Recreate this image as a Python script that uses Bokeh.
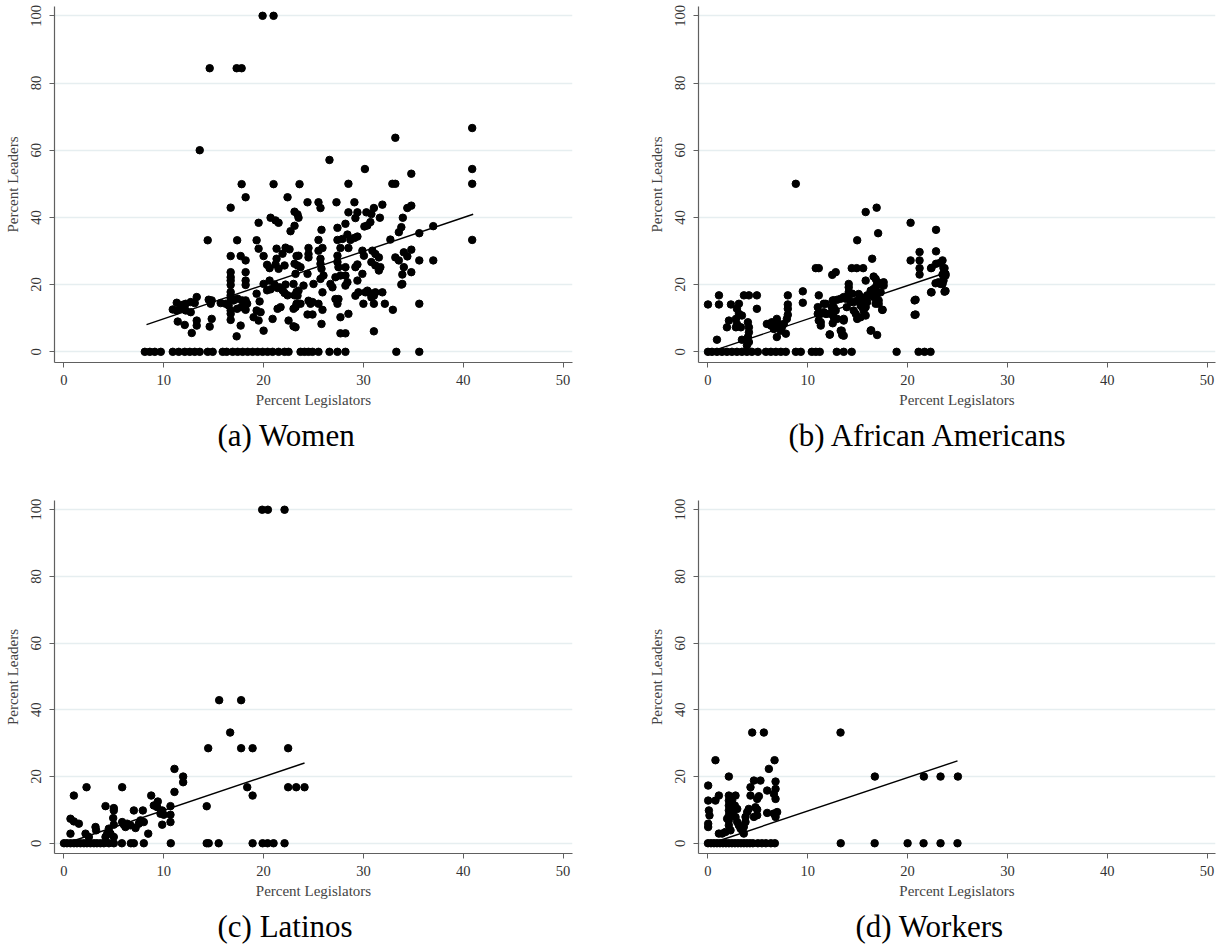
from bokeh.plotting import figure
from bokeh.layouts import gridplot
from bokeh.models import FixedTicker, Range1d, Title
from bokeh.embed import file_html
from bokeh.resources import INLINE

FONT = "Liberation Serif"

# ---------------- data: (a) Women ----------------
women_zero_x = [8.1, 8.6, 9.1, 9.7, 10.9, 11.5, 12.1, 12.6, 13.1, 13.6, 14.4, 14.9, 15.9, 16.3,
                16.9, 17.4, 17.9, 18.4, 18.9, 19.4, 19.9, 20.4, 20.9, 21.5, 22.1, 22.5, 23.7, 24.1,
                24.5, 24.9, 25.5, 26.6, 27.4, 28.2, 33.3, 35.6]
women_pts = [
    (19.9, 100), (21.0, 100), (14.6, 84.4), (17.3, 84.4), (17.8, 84.4), (13.6, 60),
    (17.8, 49.9), (21.0, 49.9), (23.6, 49.9), (18.2, 46.0), (22.4, 46.0), (16.7, 42.9), (23.1, 41.7),
    (23.4, 40.9), (19.5, 38.4), (20.7, 39.9), (21.2, 39.1), (21.5, 38.4), (23.1, 37.5), (22.7, 35.9),
    (14.4, 33.2), (17.35, 33.2), (19.3, 33.2), (19.5, 30.7), (21.3, 30.7), (22.2, 31.0), (22.6, 30.5),
    (16.7, 28.5), (17.7, 28.5), (18.2, 27.2), (20.0, 28.5), (21.3, 27.7), (21.9, 29.2), (20.35, 25.9),
    (20.6, 24.9), (21.2, 26.0), (21.5, 24.7), (22.1, 25.7), (23.1, 26.2), (23.3, 28.5),
    (16.7, 23.7), (16.7, 22.2), (16.7, 21.2), (16.7, 19.9), (18.2, 23.7), (18.2, 21.2), (18.2, 19.9),
    (20.0, 20.2), (20.6, 21.2), (21.1, 20.0), (21.4, 19.0), (21.6, 19.2), (21.9, 18.3), (22.2, 20.0),
    (22.1, 17.5), (22.4, 16.8), (23.0, 20.2), (23.3, 17.8), (23.1, 16.8), (19.3, 17.3), (19.6, 15.0),
    (20.35, 18.3), (20.7, 18.6), (16.7, 17.8), (16.7, 16.8), (16.7, 15.8), (17.0, 15.3), (17.4, 15.8),
    (17.85, 15.3), (18.2, 15.3), (15.7, 14.5), (16.2, 14.3), (16.5, 13.8), (16.7, 12.3), (17.35, 12.8),
    (17.75, 13.3), (18.2, 12.5), (18.35, 14.3), (14.5, 15.5), (14.7, 14.3), (14.8, 15.3), (13.3, 16.3),
    (13.1, 14.5), (12.7, 14.8), (12.2, 14.3), (11.9, 14.0), (11.3, 14.6), (11.7, 12.8), (10.9, 12.6),
    (11.3, 12.3), (12.2, 12.3), (12.7, 11.8), (11.4, 9.0), (12.1, 8.0), (12.8, 5.6), (13.3, 9.3),
    (13.3, 7.8), (14.8, 9.8), (14.6, 7.5), (16.7, 11.3), (16.7, 9.5), (17.7, 7.8), (17.3, 4.6),
    (19.0, 10.3), (19.5, 9.3), (20.0, 6.3), (20.9, 9.8), (21.4, 12.8), (21.7, 13.3), (22.5, 9.3),
    (23.0, 7.6), (23.0, 12.8), (23.3, 14.3), (19.3, 12.3), (19.7, 11.8),
    (40.9, 66.6), (33.2, 63.7), (26.6, 57.1), (30.15, 54.4), (40.9, 54.4), (40.9, 50.0), (34.8, 53.0),
    (28.5, 50.0), (32.9, 50.0), (33.2, 50.0), (24.4, 44.5), (25.5, 44.5), (25.7, 42.8), (27.3, 44.5),
    (29.1, 44.5), (28.5, 41.5), (29.4, 41.5), (29.2, 39.8), (30.3, 41.5), (31.05, 42.8), (30.8, 41.0),
    (31.9, 43.8), (34.4, 42.8), (34.8, 43.5), (23.5, 39.9), (31.65, 39.9), (30.7, 38.6), (30.4, 37.6),
    (30.1, 37.3), (33.95, 39.9), (33.8, 37.1), (33.55, 35.6), (37.0, 37.4), (28.2, 38.1), (27.4, 36.9),
    (25.8, 36.3), (35.6, 35.3), (32.7, 33.4), (28.4, 34.9), (29.1, 33.9), (29.4, 34.3), (28.7, 33.3),
    (27.4, 33.3), (27.9, 33.6), (27.7, 30.9), (28.5, 30.9), (25.5, 33.3), (24.5, 30.9), (25.9, 30.9),
    (25.5, 30.1), (40.9, 33.3), (29.9, 30.1), (30.05, 28.6), (30.9, 30.1), (31.2, 29.1), (31.55, 28.1),
    (33.2, 28.1), (33.55, 27.2), (34.05, 29.6), (34.4, 28.4), (34.8, 30.4), (35.6, 27.2), (37.0, 27.2),
    (23.5, 28.6), (23.4, 25.7), (23.7, 25.2), (23.2, 23.2), (24.5, 29.1), (24.5, 28.1), (25.7, 27.7),
    (25.7, 26.2), (25.8, 24.7), (26.0, 22.7), (25.7, 21.7), (27.4, 28.6), (27.4, 26.7), (27.5, 25.2),
    (27.2, 22.2), (27.7, 22.7), (28.2, 25.2), (28.2, 22.7), (28.4, 20.7), (28.2, 19.7), (29.4, 26.0),
    (29.2, 25.2), (29.9, 23.2), (29.4, 21.2), (29.2, 16.7), (29.5, 17.7), (30.2, 17.7), (30.8, 26.7),
    (31.2, 25.7), (31.7, 25.2), (31.55, 24.2), (34.05, 25.2), (33.9, 23.0), (33.9, 20.2), (34.8, 23.7),
    (24.4, 23.2), (25.0, 20.2), (24.0, 19.7), (26.7, 20.2), (26.9, 19.2), (27.2, 15.7), (27.5, 15.7),
    (27.4, 14.3), (27.7, 10.3), (28.5, 11.3), (25.9, 17.7), (25.5, 14.3), (25.9, 12.5), (25.8, 8.3),
    (24.5, 15.2), (24.9, 14.8), (24.7, 14.3), (24.4, 11.1), (24.9, 11.1), (23.5, 18.2), (23.4, 16.7),
    (23.7, 14.3), (23.2, 13.3), (30.4, 18.2), (30.7, 17.4), (31.2, 17.7), (31.9, 17.7), (31.05, 16.7),
    (30.8, 16.2), (30.0, 14.3), (31.05, 14.3), (32.15, 14.3), (32.95, 12.5), (35.6, 14.3), (31.05, 6.1),
    (27.7, 5.5), (28.2, 5.5), (23.2, 7.3), (33.8, 20.0),
]
women_fit_x = [8.27, 41.0]
women_fit_y = [8.1, 40.95]

# ---------------- data: (b) African Americans ----------------
afam_zero_x = [0.0, 0.4, 0.9, 1.4, 1.9, 2.4, 2.9, 3.4, 3.9, 4.4, 5.0, 5.8, 6.3, 6.8, 7.3, 7.8,
               8.8, 9.3, 10.4, 10.8, 11.2, 12.9, 13.6, 14.4, 18.9, 21.1, 21.7, 22.3]
afam_pts = [
    (8.8, 50), (15.8, 41.6), (16.9, 42.9), (17.05, 35.3), (14.95, 33.2), (20.3, 38.4), (22.85, 36.3),
    (10.8, 24.9), (11.1, 24.9), (12.45, 22.9), (12.8, 23.7), (14.4, 24.9), (14.9, 24.9), (15.55, 24.9),
    (16.45, 27.7), (21.2, 29.7), (21.2, 27.2), (21.2, 24.9), (21.2, 23.0), (20.3, 27.2), (22.85, 29.9),
    (22.85, 26.2), (22.35, 24.9), (23.5, 27.2), (23.7, 24.9), (23.8, 22.7), (23.5, 23.0), (23.3, 20.2),
    (22.8, 20.4), (23.7, 17.9), (22.35, 17.7), (20.7, 15.3), (20.7, 11.0),
    (0.0, 14.1), (1.1, 14.1), (1.1, 16.8), (2.3, 14.1), (3.6, 16.8), (4.1, 16.8), (4.9, 16.8),
    (4.9, 12.8), (3.1, 14.3), (2.9, 12.8), (3.1, 11.3), (3.4, 10.8), (2.8, 9.8), (2.9, 8.3), (2.1, 9.3),
    (1.9, 7.3), (2.8, 7.3), (3.3, 7.3), (4.0, 8.8), (4.1, 7.3), (4.1, 5.8), (4.0, 4.4), (4.1, 2.9),
    (3.9, 1.9), (0.9, 3.6), (3.4, 3.6), (6.1, 8.3), (6.4, 8.8), (6.8, 7.3), (6.9, 9.8), (7.1, 8.3),
    (7.3, 6.3), (7.4, 7.3), (7.6, 8.3), (6.9, 4.4), (7.8, 5.4), (7.9, 9.8), (8.0, 12.8), (8.0, 16.8),
    (8.0, 14.1), (8.0, 11.0), (5.9, 8.3), (6.3, 7.8), (6.6, 6.8), (9.5, 18.0), (9.5, 14.6), (11.1, 16.8),
    (11.6, 14.3), (11.0, 13.3), (11.0, 11.3), (11.1, 9.3), (11.3, 7.8), (11.8, 11.3), (12.2, 5.1),
    (12.5, 15.3), (12.6, 13.3), (12.5, 11.3), (12.5, 8.5), (12.95, 15.5), (12.95, 9.8), (13.3, 6.3),
    (13.45, 5.0), (13.6, 9.3),
    (13.6, 16.3), (14.1, 17.2), (14.1, 20.2), (14.3, 14.8), (13.9, 13.3), (14.6, 12.3), (14.8, 11.3),
    (14.95, 15.3), (15.1, 17.2), (15.3, 13.8), (15.45, 15.8), (15.6, 12.3), (15.8, 10.8), (15.95, 14.8),
    (16.3, 16.8), (16.45, 18.2), (16.6, 16.3), (16.8, 19.2), (16.95, 17.2), (16.8, 14.3), (17.1, 15.3),
    (17.3, 17.7), (17.5, 20.0), (16.3, 6.3), (16.95, 5.0), (17.5, 12.5), (16.6, 22.4), (16.8, 21.7),
    (17.0, 20.7), (17.6, 20.7), (17.6, 19.7), (14.1, 19.2), (14.1, 17.8), (14.1, 16.8), (15.8, 21.2),
    (16.95, 20.2), (17.3, 20.2), (13.3, 15.8), (13.8, 15.8), (14.45, 17.3), (14.6, 14.8), (15.3, 16.3),
    (15.45, 13.3), (15.95, 16.8), (16.3, 18.2), (16.6, 18.7), (12.6, 15.3), (12.4, 13.3), (12.8, 12.3),
    (12.6, 10.3), (12.3, 11.3), (11.8, 14.3), (11.6, 11.8), (11.9, 11.3), (11.3, 11.3), (11.3, 8.8),
    (13.6, 9.8), (13.4, 6.3), (13.6, 4.8), (12.2, 5.2), (14.95, 9.8), (15.3, 10.3),
    (15.8, 13.3), (16.35, 6.4), (17.45, 12.5), (17.1, 14.3), (20.8, 15.5), (20.8, 11.1), (22.4, 25.0),
    (23.2, 26.4), (23.6, 24.9), (23.8, 23.2), (23.6, 21.2), (23.1, 20.7), (23.5, 20.2), (23.8, 18.1),
    (22.4, 17.7),
]
afam_fit_x = [0.4, 23.3]
afam_fit_y = [0.2, 23.0]

# ---------------- data: (c) Latinos ----------------
lat_zero_x = [0.0, 0.3, 0.65, 1.0, 1.3, 1.65, 2.0, 2.3, 2.65, 3.0, 3.3, 3.65, 4.0, 4.5, 5.0, 5.8,
              6.7, 7.0, 8.0, 10.7, 14.3, 14.5, 15.5, 18.9, 19.9, 20.4, 21.0, 22.1]
lat_pts = [
    (19.86, 100), (20.43, 100), (22.1, 100), (15.55, 42.9), (17.75, 42.9), (16.65, 33.2),
    (14.45, 28.5), (17.75, 28.5), (18.9, 28.5), (22.46, 28.5), (18.36, 16.8), (18.9, 14.3),
    (22.46, 16.8), (23.27, 16.8), (24.1, 16.8), (14.3, 11.1), (11.07, 22.3), (11.94, 20.0),
    (11.94, 18.3), (11.07, 15.4), (0.99, 14.3), (2.26, 16.8), (5.83, 16.8),
    (0.65, 7.35), (0.99, 6.56), (1.49, 5.87), (0.65, 2.88), (2.16, 2.88), (2.49, 1.89), (3.16, 4.87),
    (3.22, 3.88), (4.16, 11.13), (4.99, 10.54), (4.93, 7.55), (4.99, 5.57), (4.49, 4.37), (4.33, 2.88),
    (4.66, 2.88), (4.16, 1.89), (4.99, 1.89), (5.83, 6.36), (6.0, 5.57), (6.33, 5.87), (6.16, 4.87),
    (6.67, 5.37), (7.0, 9.84), (7.17, 4.57), (7.5, 5.87), (7.67, 6.86), (8.0, 6.36), (7.9, 9.84),
    (8.44, 2.88), (8.74, 14.3), (9.0, 11.33), (9.4, 12.52), (9.34, 10.83), (9.84, 9.84), (9.67, 8.85),
    (10.0, 8.55), (9.84, 5.57), (10.67, 11.13), (10.67, 8.55), (10.67, 6.36), (4.99, 9.84),
]
lat_fit_x = [0.82, 24.1]
lat_fit_y = [0.6, 24.06]

# ---------------- data: (d) Workers ----------------
work_zero_x = [0.0, 0.3, 0.6, 0.9, 1.2, 1.5, 1.8, 2.1, 2.4, 2.7, 3.0, 3.3, 3.6, 3.9, 4.2, 4.5, 5.0,
               5.4, 5.8, 6.3, 6.7, 13.3, 16.7, 20.0, 21.6, 23.3, 25.0]
work_pts = [
    (4.43, 33.2), (5.6, 33.2), (13.28, 33.2), (0.75, 24.9), (6.67, 24.9), (2.09, 20.0), (16.72, 20.0),
    (21.63, 20.0), (23.3, 20.0), (25.04, 20.0), (0.02, 17.3), (6.1, 22.3),
    (4.26, 16.8), (4.6, 18.8), (5.26, 18.8), (6.77, 18.5), (6.77, 16.3), (6.6, 14.8), (6.77, 13.3),
    (5.93, 15.8), (5.1, 14.1), (4.93, 13.3), (4.26, 14.3), (4.76, 10.8), (4.93, 10.1), (4.93, 8.4),
    (4.6, 7.9), (4.09, 10.3), (3.93, 9.35), (3.76, 7.9), (3.76, 6.4), (3.59, 4.9), (3.43, 3.9),
    (6.93, 9.35), (6.77, 7.9), (6.6, 8.9), (5.93, 9.1),
    (0.02, 12.8), (0.09, 9.85), (0.15, 8.35), (0.02, 5.87), (0.02, 4.87), (0.75, 12.8), (1.09, 14.3),
    (2.09, 14.3), (2.09, 12.8), (2.09, 11.3), (2.09, 9.85), (2.09, 8.35), (2.09, 6.86), (2.09, 5.37),
    (2.26, 3.88), (2.42, 12.8), (2.76, 14.3), (2.69, 11.3), (2.93, 10.3), (2.49, 9.35), (2.76, 7.85),
    (2.93, 6.36), (1.92, 7.35), (1.09, 2.9), (1.42, 2.9), (1.76, 3.4), (3.09, 5.4), (3.26, 4.4),
    (3.59, 2.9),
]
work_fit_x = [1.25, 25.0]
work_fit_y = [0.9, 24.7]

x_ticks = [0, 10, 20, 30, 40, 50]
y_ticks = [0, 20, 40, 60, 80, 100]


def panel(zero_x, pts, fit_x, fit_y, caption, width, height, bl, br, bt, bb, xr, yr, cap_offset):
    p = figure(width=width, height=height, x_range=Range1d(*xr), y_range=Range1d(*yr),
               toolbar_location=None, output_backend="svg",
               min_border_left=bl, min_border_right=br, min_border_top=bt, min_border_bottom=bb)
    p.outline_line_color = None
    p.background_fill_color = "white"
    p.border_fill_color = "white"
    p.xgrid.visible = False
    p.ygrid.ticker = FixedTicker(ticks=y_ticks)
    p.ygrid.grid_line_color = "#e6eef0"
    p.ygrid.grid_line_width = 1.3
    p.xaxis.ticker = FixedTicker(ticks=x_ticks)
    p.yaxis.ticker = FixedTicker(ticks=y_ticks)
    for ax in (p.xaxis, p.yaxis):
        ax.axis_line_color = "#606060"
        ax.axis_line_width = 1.2
        ax.major_tick_line_color = "#606060"
        ax.major_tick_in = 0
        ax.major_tick_out = 5
        ax.minor_tick_line_color = None
        ax.major_label_text_font = FONT
        ax.major_label_text_font_size = "14.5px"
        ax.major_label_text_color = "#333333"
        ax.axis_label_text_font = FONT
        ax.axis_label_text_font_size = "15px"
        ax.axis_label_text_font_style = "normal"
        ax.axis_label_text_color = "#444444"
    p.xaxis.axis_label = "Percent Legislators"
    p.yaxis.axis_label = "Percent Leaders"
    p.yaxis.major_label_orientation = "vertical"
    p.yaxis.major_label_standoff = 8
    p.yaxis.axis_label_standoff = 8
    p.xaxis.major_label_standoff = 7
    p.xaxis.axis_label_standoff = 4

    xs = list(zero_x) + [pt[0] for pt in pts]
    ys = [0.0] * len(zero_x) + [pt[1] for pt in pts]
    p.scatter(xs, ys, size=7.5, fill_color="black", line_color="black")
    p.line(fit_x, fit_y, line_color="black", line_width=1.4)

    p.add_layout(Title(text=caption, align="left", offset=cap_offset, text_font=FONT,
                       text_font_size="31px", text_font_style="normal", text_color="black",
                       standoff=10), "below")
    return p


yr_top = (-3.18, 102.77)
yr_bot = (-3.07, 102.77)
pa = panel(women_zero_x, women_pts, women_fit_x, women_fit_y, "(a) Women",
           640, 480, 54, 68, 6, 118, (-0.95, 50.95), yr_top, 163)
pb = panel(afam_zero_x, afam_pts, afam_fit_x, afam_fit_y, "(b) African Americans",
           581, 480, 58, 6, 6, 118, (-0.95, 50.85), yr_top, 90)
pc = panel(lat_zero_x, lat_pts, lat_fit_x, lat_fit_y, "(c) Latinos",
           640, 468, 54, 68, 20, 93, (-0.95, 50.95), yr_bot, 163)
pd = panel(work_zero_x, work_pts, work_fit_x, work_fit_y, "(d) Workers",
           581, 468, 58, 6, 20, 93, (-0.95, 50.85), yr_bot, 157)

grid = gridplot([[pa, pb], [pc, pd]], toolbar_location=None)
open("out.html", "w").write(file_html(grid, INLINE))
